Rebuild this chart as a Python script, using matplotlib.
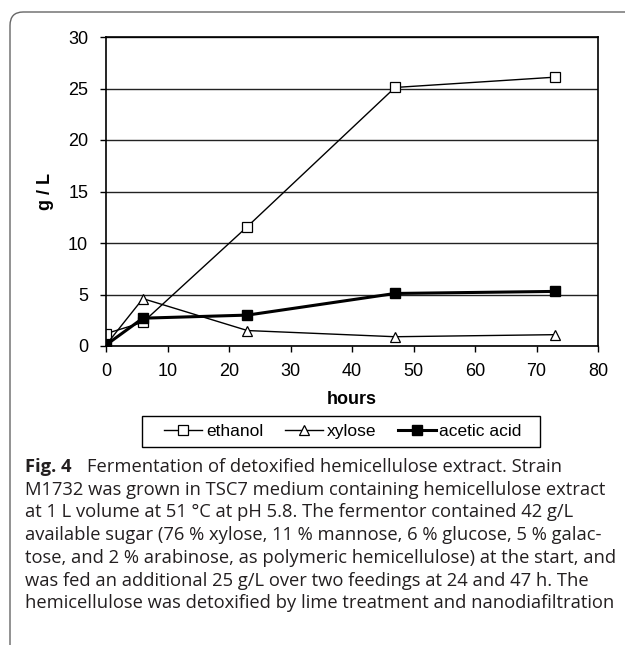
import matplotlib.pyplot as plt
from matplotlib.patches import FancyBboxPatch, Rectangle

hours = [0, 6, 23, 47, 73]
ethanol = [1.2, 2.3, 11.6, 25.1, 26.1]
xylose = [0.1, 4.6, 1.5, 0.9, 1.1]
acetic = [0.1, 2.7, 3.0, 5.1, 5.3]

caption_first = "Fermentation of detoxified hemicellulose extract. Strain"
caption_lines = [
    "M1732 was grown in TSC7 medium containing hemicellulose extract",
    "at 1 L volume at 51 \u00b0C at pH 5.8. The fermentor contained 42 g/L",
    "available sugar (76 % xylose, 11 % mannose, 6 % glucose, 5 % galac-",
    "tose, and 2 % arabinose, as polymeric hemicellulose) at the start, and",
    "was fed an additional 25 g/L over two feedings at 24 and 47 h. The",
    "hemicellulose was detoxified by lime treatment and nanodiafiltration",
]

plt.rcParams['font.family'] = ['Liberation Sans', 'DejaVu Sans']

W, H = 625, 645
fig = plt.figure(figsize=(W / 100, H / 100), dpi=100)

# rounded panel border (runs off the right and bottom edges)
border = FancyBboxPatch((10 / W, -0.1), 1.2, 1.1 - 12 / H,
                        boxstyle="round,pad=0,rounding_size=0.021",
                        transform=fig.transFigure, fill=False,
                        edgecolor='#666666', linewidth=1.0)
fig.patches.append(border)

ax = fig.add_axes([106 / W, 1 - 346 / H, (598 - 106) / W, (346 - 37) / H])
ax.plot(hours, ethanol, color='black', lw=1.0, marker='s', ms=7,
        mfc='white', mec='black', mew=0.9, label='ethanol')
ax.plot(hours, xylose, color='black', lw=1.0, marker='^', ms=7.5,
        mfc='white', mec='black', mew=0.9, label='xylose')
ax.plot(hours, acetic, color='black', lw=2.2, marker='s', ms=7.5,
        mfc='black', mec='black', label='acetic acid')

ax.set_xlim(0, 80)
ax.set_ylim(0, 30)
ax.set_xticks(range(0, 81, 10))
ax.set_yticks(range(0, 31, 5))
ax.tick_params(labelsize=13, direction='out', length=4.3, width=1)
ax.tick_params(axis='x', pad=8)
ax.tick_params(axis='y', pad=8.5)
ax.yaxis.grid(True, color='#222222', lw=1.0)
ax.set_axisbelow(True)
for s in ax.spines.values():
    s.set_linewidth(1.2)
ax.set_xlabel('hours', fontsize=13, fontweight='bold', labelpad=8)
ax.set_ylabel('g / L', fontsize=13, fontweight='bold', labelpad=10)

# legend below the plot
leg = fig.legend(*ax.get_legend_handles_labels(), loc='center',
                 bbox_to_anchor=(343 / W, 1 - 431.5 / H), ncol=3,
                 frameon=False, fontsize=12.5, handlelength=2.2,
                 handletextpad=0.2, columnspacing=1.25)
fig.patches.append(Rectangle((142 / W, 1 - 447 / H), (540 - 142) / W, 31 / H,
                             transform=fig.transFigure, fill=False,
                             edgecolor='black', linewidth=1.0))

cap_font = ['Open Sans', 'DejaVu Sans']
cap_size = 13.2
cap_col = '#231f20'
y0 = 467
fig.text(25 / W, 1 - y0 / H, "Fig. 4", fontsize=cap_size, fontweight='bold',
         family=cap_font, va='center', color=cap_col)
fig.text(87 / W, 1 - y0 / H, caption_first, fontsize=cap_size,
         family=cap_font, va='center', color=cap_col)
for i, line in enumerate(caption_lines):
    fig.text(25 / W, 1 - (y0 + (i + 1) * 22.7) / H, line, fontsize=cap_size,
             family=cap_font, va='center', color=cap_col)

fig.savefig('out.png', dpi=100)
